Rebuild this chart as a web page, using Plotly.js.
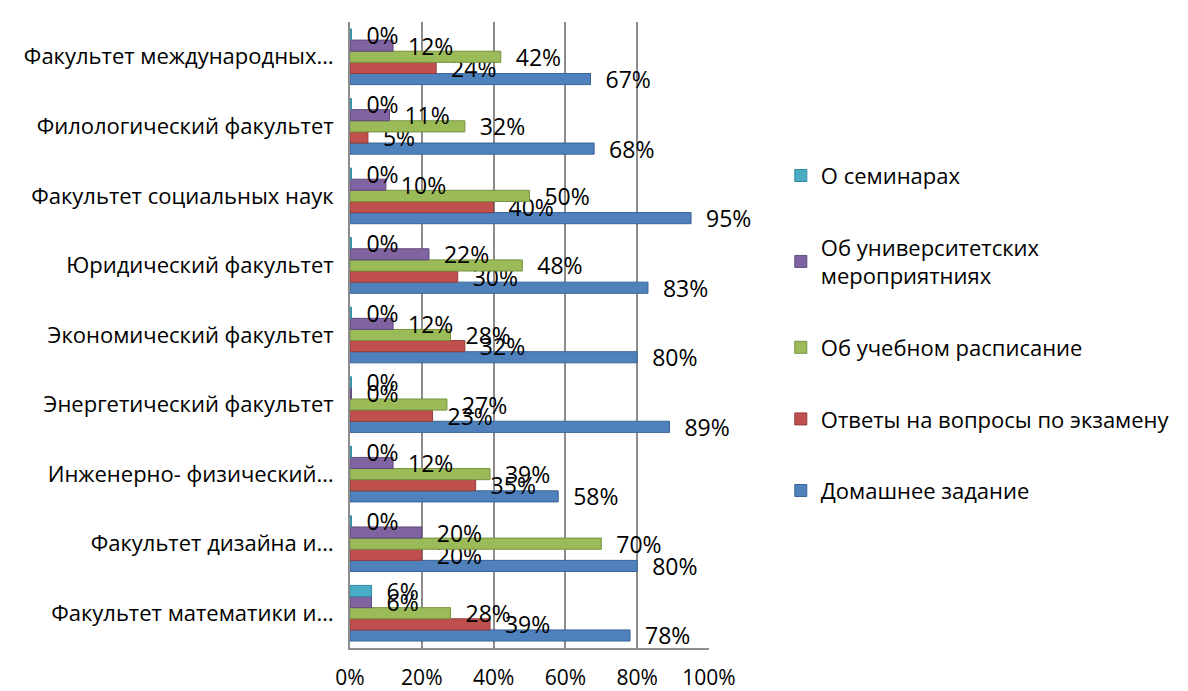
<!DOCTYPE html>
<html>
<head>
<meta charset="utf-8">
<script src="https://cdn.plot.ly/plotly-3.0.1.min.js"></script>
<style>html,body{margin:0;padding:0;background:#fff;}#chart{width:1188px;height:691px;}</style>
</head>
<body>
<div id="chart"></div>
<script>
const categories = [
  "Факультет математики и…",
  "Факультет дизайна и…",
  "Инженерно- физический…",
  "Энергетический факультет",
  "Экономический факультет",
  "Юридический факультет",
  "Факультет социальных наук",
  "Филологический факультет",
  "Факультет международных…"
];
const seriesNames = [
  "Домашнее задание",
  "Ответы на вопросы по экзамену",
  "Об учебном расписание",
  "Об университетских<br>мероприятниях",
  "О семинарах"
];
const homework   = [0.78, 0.80, 0.58, 0.89, 0.80, 0.83, 0.95, 0.68, 0.67];
const examAnswers= [0.39, 0.20, 0.35, 0.23, 0.32, 0.30, 0.40, 0.05, 0.24];
const schedule   = [0.28, 0.70, 0.39, 0.27, 0.28, 0.48, 0.50, 0.32, 0.42];
const uniEvents  = [0.06, 0.20, 0.12, 0.00, 0.12, 0.22, 0.10, 0.11, 0.12];
const seminars   = [0.06, 0.00, 0.00, 0.00, 0.00, 0.00, 0.00, 0.00, 0.00];
const seriesValues = [homework, examAnswers, schedule, uniEvents, seminars];
const colors = ["#4F81BD", "#C0504D", "#9BBB59", "#8064A2", "#4BACC6"];
const lineColors = ["#3A6496", "#943C3A", "#76913F", "#5F4B7A", "#318A9F"];

const FONT = "Open Sans, Noto Sans, sans-serif";
const traces = seriesValues.map((vals, i) => ({
  type: "bar",
  orientation: "h",
  name: seriesNames[i],
  legendgroup: "g" + i,
  legendrank: seriesValues.length - i,
  y: categories,
  x: vals.map(v => Math.max(v, 0.004)),
  customdata: vals,
  text: vals.map(v => Math.round(v * 100) + "%"),
  texttemplate: "\u00A0\u00A0%{text}",
  textposition: "outside",
  constraintext: "none",
  cliponaxis: false,
  textfont: {family: FONT, size: 23, color: "#000"},
  marker: {color: colors[i], line: {color: lineColors[i], width: 1}},
  hovertemplate: "%{y}: %{customdata:.0%}<extra></extra>"
}));

const layout = {
  width: 1188,
  height: 691,
  margin: {l: 350, r: 479, t: 22, b: 43},
  paper_bgcolor: "#fff",
  plot_bgcolor: "#fff",
  barmode: "group",
  bargap: 0.2,
  bargroupgap: 0,
  font: {family: FONT, size: 20, color: "#000"},
  xaxis: {
    range: [0, 1],
    tickvals: [0, 0.2, 0.4, 0.6, 0.8, 1.0],
    tickformat: ".0%",
    showgrid: true,
    gridcolor: "#8c8c8c",
    gridwidth: 2,
    zeroline: false,
    showline: true,
    linecolor: "#8c8c8c",
    linewidth: 2,
    ticks: "",
    ticklabelstandoff: 10,
    tickfont: {family: FONT, size: 21, color: "#000"}
  },
  yaxis: {
    type: "category",
    showline: true,
    linecolor: "#8c8c8c",
    linewidth: 2,
    showgrid: false,
    ticks: "",
    ticklabelstandoff: 10,
    tickfont: {family: FONT, size: 22, color: "#000"}
  },
  showlegend: true,
  legend: {
    x: 1.2,
    xanchor: "left",
    y: 0.788,
    yanchor: "top",
    traceorder: "grouped",
    tracegroupgap: 40,
    font: {family: FONT, size: 22, color: "#000"},
    itemwidth: 30
  }
};

Plotly.newPlot("chart", traces, layout, {displayModeBar: false, staticPlot: true});
</script>
</body>
</html>
